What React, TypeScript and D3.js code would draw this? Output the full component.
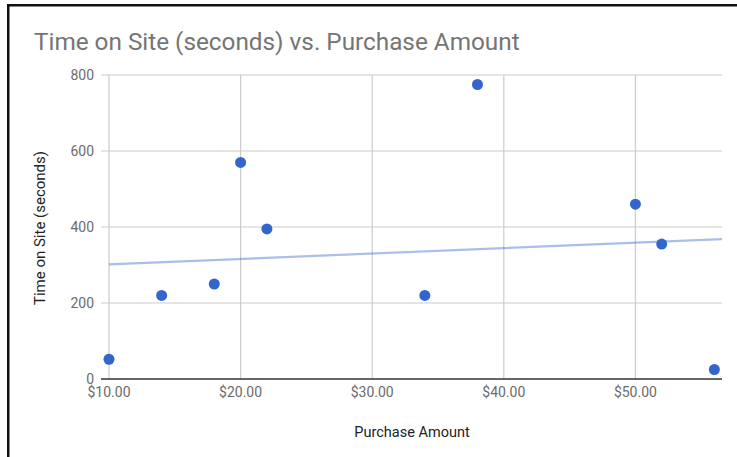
import React from "react";
import * as d3 from "d3";

const purchaseAmounts = [10, 14, 18, 20, 22, 34, 38, 50, 52, 56];
const timeOnSite = [52, 220, 250, 570, 395, 220, 775, 460, 355, 25];
const yTicks = [0, 200, 400, 600, 800];
const xTicks = [10, 20, 30, 40, 50];
const xTickLabels = ["$10.00", "$20.00", "$30.00", "$40.00", "$50.00"];
const title = "Time on Site (seconds) vs. Purchase Amount";
const xTitle = "Purchase Amount";
const yTitle = "Time on Site (seconds)";

const W = 737;
const H = 457;
const plot = { left: 109, right: 722, top: 75, bottom: 379 };
const font = "Roboto, 'Noto Sans', Arial, sans-serif";

export default function App() {
  const x = d3.scaleLinear().domain([10, 56.58]).range([plot.left, plot.right]);
  const y = d3.scaleLinear().domain([0, 800]).range([plot.bottom, plot.top]);

  // linear regression trendline
  const mx = d3.mean(purchaseAmounts) as number;
  const my = d3.mean(timeOnSite) as number;
  let sxy = 0;
  let sxx = 0;
  purchaseAmounts.forEach((v, i) => {
    sxy += (v - mx) * (timeOnSite[i] - my);
    sxx += (v - mx) * (v - mx);
  });
  const slope = sxy / sxx;
  const intercept = my - slope * mx;
  const [x0, x1] = x.domain();
  const line = d3
    .line<[number, number]>()
    .x((d) => x(d[0]))
    .y((d) => y(d[1]));
  const trend = line([
    [x0, intercept + slope * x0],
    [x1, intercept + slope * x1],
  ]);

  return (
    <svg
      width={W}
      height={H}
      style={{ position: "absolute", left: 0, top: 0, background: "#fff" }}
      fontFamily={font}
    >
      <rect x={0} y={0} width={W} height={H} fill="#fff" />
      {/* frame */}
      <rect x={7} y={4} width={W - 7} height={2.5} fill="#111" />
      <rect x={7} y={4} width={2.5} height={H - 4} fill="#111" />

      <text x={34} y={50} fontSize={24.3} fill="#757575">
        {title}
      </text>

      {/* horizontal grid */}
      {yTicks.map((t) => (
        <g key={"y" + t}>
          {t !== 0 && (
            <line
              x1={plot.left - 8}
              x2={plot.right}
              y1={y(t)}
              y2={y(t)}
              stroke="#cccccc"
              strokeWidth={1.2}
            />
          )}
          <text
            x={94}
            y={y(t)}
            dy="0.35em"
            textAnchor="end"
            fontSize={14}
            fill="#6b6b6b"
          >
            {t}
          </text>
        </g>
      ))}

      {/* vertical grid */}
      {xTicks.map((t, i) => (
        <g key={"x" + t}>
          <line
            x1={x(t)}
            x2={x(t)}
            y1={plot.top}
            y2={plot.bottom}
            stroke="#cccccc"
            strokeWidth={1.2}
          />
          <text
            x={x(t)}
            y={397}
            textAnchor="middle"
            fontSize={14}
            fill="#6b6b6b"
          >
            {xTickLabels[i]}
          </text>
        </g>
      ))}

      {/* baseline */}
      <line
        x1={plot.left - 8}
        x2={plot.right}
        y1={y(0)}
        y2={y(0)}
        stroke="#333"
        strokeWidth={1.3}
      />

      {/* trendline */}
      <path d={trend || ""} fill="none" stroke="#3366cc" strokeOpacity={0.42} strokeWidth={2.2} />

      {/* points */}
      {purchaseAmounts.map((v, i) => (
        <circle key={i} cx={x(v)} cy={y(timeOnSite[i])} r={5.5} fill="#3366cc" />
      ))}

      <text x={412} y={437} textAnchor="middle" fontSize={14.5} fill="#222">
        {xTitle}
      </text>
      <text
        transform={`translate(45, ${(plot.top + plot.bottom) / 2 + 1}) rotate(-90)`}
        textAnchor="middle"
        fontSize={15}
        fill="#222"
      >
        {yTitle}
      </text>
    </svg>
  );
}
